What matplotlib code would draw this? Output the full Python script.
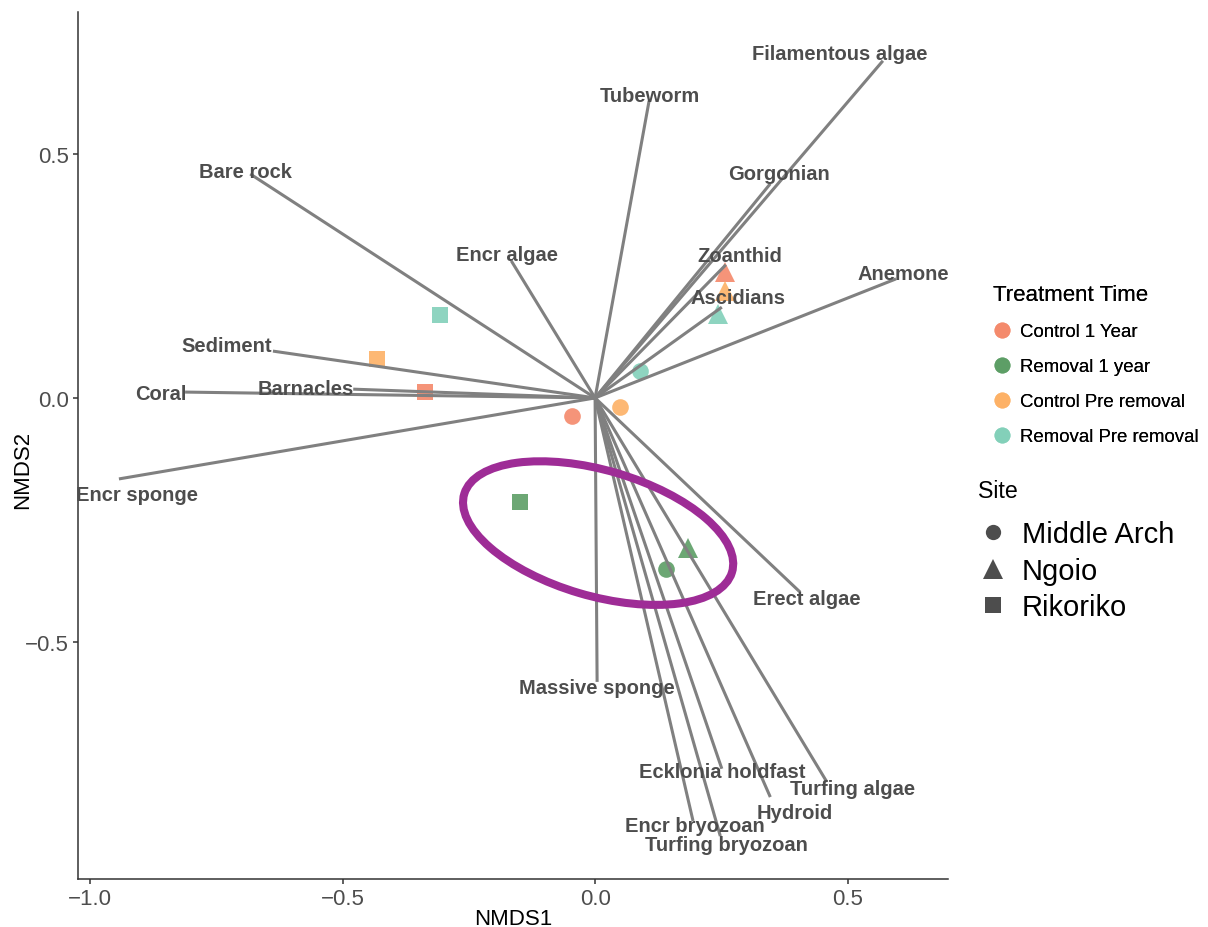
import numpy as np
import matplotlib.pyplot as plt
from matplotlib.lines import Line2D
from matplotlib.patches import Ellipse

plt.rcParams['font.family'] = ['Liberation Sans', 'DejaVu Sans']

# vecteurs des especes (scores envfit)
species = ['Bare rock', 'Encr algae', 'Sediment', 'Coral', 'Barnacles', 'Encr sponge',
           'Tubeworm', 'Filamentous algae', 'Gorgonian', 'Zoanthid', 'Ascidians', 'Anemone',
           'Erect algae', 'Massive sponge', 'Ecklonia holdfast', 'Turfing algae', 'Hydroid',
           'Encr bryozoan', 'Turfing bryozoan']
vec_x = [-0.683, -0.166, -0.638, -0.812, -0.479, -0.943,
         0.107, 0.570, 0.347, 0.259, 0.251, 0.596,
         0.406, 0.004, 0.251, 0.459, 0.347, 0.194, 0.248]
vec_y = [0.459, 0.281, 0.096, 0.012, 0.018, -0.166,
         0.609, 0.691, 0.439, 0.273, 0.186, 0.244,
         -0.398, -0.582, -0.760, -0.787, -0.818, -0.867, -0.898]
lab_x = [-0.693, -0.174, -0.729, -0.861, -0.574, -0.907,
         0.109, 0.485, 0.364, 0.287, 0.283, 0.610,
         0.420, 0.004, 0.251, 0.509, 0.396, 0.198, 0.261]
lab_y = [0.465, 0.293, 0.107, 0.010, 0.020, -0.197,
         0.619, 0.705, 0.459, 0.291, 0.205, 0.256,
         -0.412, -0.594, -0.766, -0.801, -0.850, -0.877, -0.916]

# echantillons
treatments = ['Control 1 Year', 'Removal 1 year', 'Control Pre removal', 'Removal Pre removal']
treat_colors = ['#F4896B', '#5C9E65', '#FDB165', '#82D0B9']
sites = ['Middle Arch', 'Ngoio', 'Rikoriko']
site_markers = ['o', '^', 's']
site_sizes = [12, 14, 12]

pt_treat = [0, 0, 0, 1, 1, 1, 2, 2, 2, 3, 3, 3]
pt_site = [0, 1, 2, 0, 1, 2, 0, 1, 2, 0, 1, 2]
pt_x = [-0.046, 0.257, -0.337, 0.141, 0.184, -0.149, 0.050, 0.257, -0.432, 0.089, 0.244, -0.307]
pt_y = [-0.037, 0.258, 0.012, -0.350, -0.307, -0.213, -0.018, 0.219, 0.080, 0.055, 0.172, 0.170]

fig = plt.figure(figsize=(12.08, 9.28), dpi=100)
ax = fig.add_axes([0.0646, 0.0517, 0.7202, 0.9343])

for t, s, x, y in zip(pt_treat, pt_site, pt_x, pt_y):
    ax.plot(x, y, linestyle='none', marker=site_markers[s], markersize=site_sizes[s],
            color=treat_colors[t], markeredgewidth=0, alpha=0.9, zorder=2)

for x, y in zip(vec_x, vec_y):
    ax.plot([0, x], [0, y], color='#808080', linewidth=2.2, solid_capstyle='butt', zorder=3)

for name, x, y in zip(species, lab_x, lab_y):
    ax.text(x, y, name, ha='center', va='center', fontsize=14.5, fontweight='bold',
            color='#4D4D4D', zorder=4)

# ellipse ajoutee a la main autour des points "Removal 1 year"
ax.add_patch(Ellipse((0.006, -0.277), 0.554, 0.257, angle=-17, fill=False,
                     edgecolor='#9E2C96', linewidth=5.8, zorder=5))

ax.set_xlim(-1.024, 0.699)
ax.set_ylim(-0.986, 0.791)
ax.set_xticks([-1.0, -0.5, 0.0, 0.5], ['\u22121.0', '\u22120.5', '0.0', '0.5'])
ax.set_yticks([-0.5, 0.0, 0.5], ['\u22120.5', '0.0', '0.5'])
ax.tick_params(colors='#333333', labelcolor='#4D4D4D', labelsize=16, length=3.5, width=1.1, pad=3)
for side in ['top', 'right']:
    ax.spines[side].set_visible(False)
for side in ['left', 'bottom']:
    ax.spines[side].set_color('#333333')
    ax.spines[side].set_linewidth(1.1)

ax.set_xlabel('NMDS1', fontsize=16, labelpad=-1)
ax.set_ylabel('NMDS2', fontsize=16)
ax.yaxis.set_label_coords(-0.052, 0.473)

h1 = [Line2D([], [], linestyle='none', marker='o', markersize=11.5, color=c, alpha=0.9,
             markeredgewidth=0) for c in treat_colors]
leg1 = fig.legend(h1, treatments, title='Treatment Time', loc='upper left',
                  bbox_to_anchor=(993 / 1208, 1 - 285 / 928), frameon=False, fontsize=13.4,
                  title_fontsize=16, alignment='left', borderpad=0, borderaxespad=0,
                  handlelength=1.0, handletextpad=0.45, labelspacing=0.97)

fig.text(978 / 1208, 1 - 492 / 928, 'Site', fontsize=16.7, va='center', ha='left')
h2 = [Line2D([], [], linestyle='none', marker=m, markersize=ms, color='#4D4D4D',
             markeredgewidth=0) for m, ms in zip(site_markers, [11, 15, 11])]
leg2 = fig.legend(h2, sites, loc='upper left',
                  bbox_to_anchor=(978 / 1208, 1 - 521 / 928), frameon=False, fontsize=21,
                  borderpad=0, borderaxespad=0,
                  handlelength=1.03, handletextpad=0.48, labelspacing=0.3)
fig.add_artist(leg1)

fig.savefig('out.png', dpi=100)
